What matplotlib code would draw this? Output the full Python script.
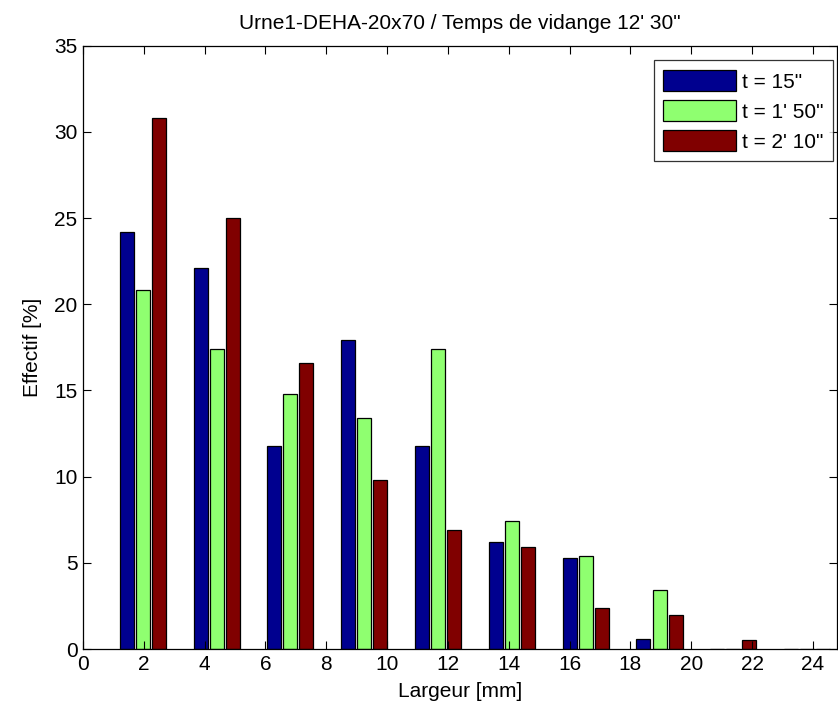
import matplotlib
matplotlib.use("Agg")
import matplotlib.pyplot as plt
import numpy as np

plt.rcParams['font.family'] = ['Liberation Sans', 'DejaVu Sans']

# bin centres (Largeur [mm]) and frequencies [%] per time step
centers = [1.97, 4.40, 6.82, 9.25, 11.68, 14.10, 16.53, 18.96, 21.38, 23.81]
t_15 = [24.2, 22.1, 11.8, 17.9, 11.8, 6.2, 5.3, 0.6, 0.0, 0.0]
t_150 = [20.8, 17.4, 14.8, 13.4, 17.4, 7.4, 5.4, 3.4, 0.0, 0.0]
t_210 = [30.8, 25.0, 16.6, 9.8, 6.9, 5.9, 2.4, 2.0, 0.5, 0.0]
labels = ['t = 15"', "t = 1' 50\"", "t = 2' 10\""]
colors = ['#00008F', '#8FFF70', '#800000']

fig = plt.figure(figsize=(8.38, 7.14), dpi=100)
ax = fig.add_axes([0.099, 0.091, 0.9, 0.845])

x = np.array(centers)
off = 0.53
w = 0.46
for k, (vals, lab, c) in enumerate(zip([t_15, t_150, t_210], labels, colors)):
    ax.bar(x + (k - 1) * off, vals, width=w, color=c, edgecolor='black',
           linewidth=0.9, label=lab)

ax.set_xlim(0, 24.8)
ax.set_ylim(0, 35)
ax.set_xticks(np.arange(0, 25, 2))
ax.set_yticks(np.arange(0, 36, 5))
ax.tick_params(direction='in', top=True, right=True, length=6, width=0.8,
               labelsize=15, pad=4)
for s in ax.spines.values():
    s.set_linewidth(0.9)

ax.set_xlabel('Largeur [mm]', fontsize=15, labelpad=6)
ax.set_ylabel('Effectif [%]', fontsize=15, labelpad=9)
ax.set_title("Urne1-DEHA-20x70 / Temps de vidange 12' 30\"", fontsize=15, pad=12)

leg = ax.legend(loc='upper right', fontsize=15, frameon=True, fancybox=False,
                edgecolor='black', handlelength=3.5, handleheight=1.2,
                borderpad=0.45, labelspacing=0.4, handletextpad=0.3,
                bbox_to_anchor=(833 / 838, 1 - 60.5 / 714),
                bbox_transform=fig.transFigure, borderaxespad=0)
leg.get_frame().set_linewidth(0.9)

fig.savefig('out.png', dpi=100, facecolor='white')
